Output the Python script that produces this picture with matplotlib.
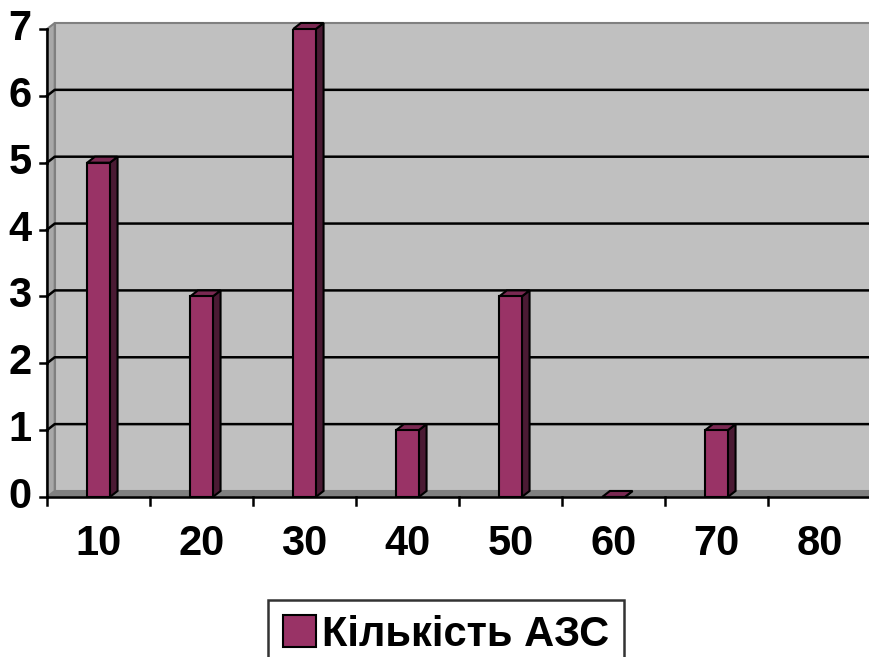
import matplotlib.pyplot as plt
from matplotlib.patches import Polygon, Rectangle

plt.rcParams['font.family'] = ['Liberation Sans', 'DejaVu Sans']

categories = ['10', '20', '30', '40', '50', '60', '70', '80']
counts = [5, 3, 7, 1, 3, 0, 1, None]  # no bar at 80
series_name = 'Кількість АЗС'

front = '#993366'
side = '#4a1a33'
top = '#7a2952'
wall = '#c0c0c0'

# depth of the pseudo-3D box in data units
dx, dy = 0.075, 0.09
bw = 0.22
x = list(range(1, len(categories) + 1))
x0, x1 = 0.5, len(categories) + 0.5
ymax = 7

fig = plt.figure(figsize=(8.7, 6.57), dpi=100)
ax = fig.add_axes([47 / 870, 160 / 657, 824 / 870, 468 / 657])
ax.set_xlim(x0, x1)
ax.set_ylim(0, ymax)
ax.axis('off')

# back wall, left wall and floor
ax.add_patch(Rectangle((x0 + dx, dy), x1 - x0 + 0.2, ymax, facecolor=wall,
                       edgecolor='#808080', lw=1.5, clip_on=False, zorder=1))
ax.add_patch(Polygon([(x0, 0), (x0 + dx, dy), (x0 + dx, ymax + dy), (x0, ymax)],
                     facecolor='#a8a8a8', edgecolor='#808080', lw=1.5,
                     clip_on=False, zorder=1))
ax.add_patch(Polygon([(x0, 0), (x1 + 0.2, 0), (x1 + 0.2, dy), (x0 + dx, dy)],
                     facecolor='#808080', edgecolor='#808080', lw=1,
                     clip_on=False, zorder=1.5))

# gridlines on the back wall with their slant across the side wall
for k in range(1, ymax):
    ax.plot([x0, x0 + dx, x1 + 0.2], [k, k + dy, k + dy], color='black',
            lw=1.8, clip_on=False, zorder=2)

# bars: front face plus side and top faces
xs = [xi for xi, v in zip(x, counts) if v is not None]
vs = [v for v in counts if v is not None]
ax.bar(xs, vs, width=bw, color=front, edgecolor='black', lw=1.5,
       zorder=4, label=series_name)
for xi, v in zip(xs, vs):
    r = xi + bw / 2
    l = xi - bw / 2
    ax.add_patch(Polygon([(r, 0), (r + dx, dy), (r + dx, v + dy), (r, v)],
                         facecolor=side, edgecolor='black', lw=1.5,
                         clip_on=False, zorder=3.5))
    ax.add_patch(Polygon([(l, v), (l + dx, v + dy), (r + dx, v + dy), (r, v)],
                         facecolor=top, edgecolor='black', lw=1.5,
                         clip_on=False, zorder=3.5))

# front axes with ticks
ax.plot([x0, x0], [0, ymax], color='black', lw=1.8, clip_on=False, zorder=5)
ax.plot([x0, x1], [0, 0], color='black', lw=1.8, clip_on=False, zorder=5)
tick = 7 / 103
for k in range(ymax + 1):
    ax.plot([x0 - tick, x0], [k, k], color='black', lw=1.8, clip_on=False, zorder=5)
    ax.text(x0 - 0.15, k, str(k), ha='right', va='center', fontsize=30,
            fontweight='bold')
for b in range(len(categories) + 1):
    ax.plot([x0 + b, x0 + b], [0, -0.12], color='black', lw=1.8,
            clip_on=False, zorder=5)
for xi, c in zip(x, categories):
    ax.text(xi, -0.7, c, ha='center', va='center', fontsize=30,
            fontweight='bold')

leg = fig.legend(loc='upper left', bbox_to_anchor=(268 / 870, 57 / 657),
                 frameon=True, fancybox=False, edgecolor='black',
                 prop={'size': 30, 'weight': 'bold'}, handlelength=0.8,
                 handleheight=0.8, handletextpad=0.15, borderpad=0.35,
                 borderaxespad=0)
leg.get_frame().set_linewidth(1.8)

fig.savefig('out.png', dpi=100)
